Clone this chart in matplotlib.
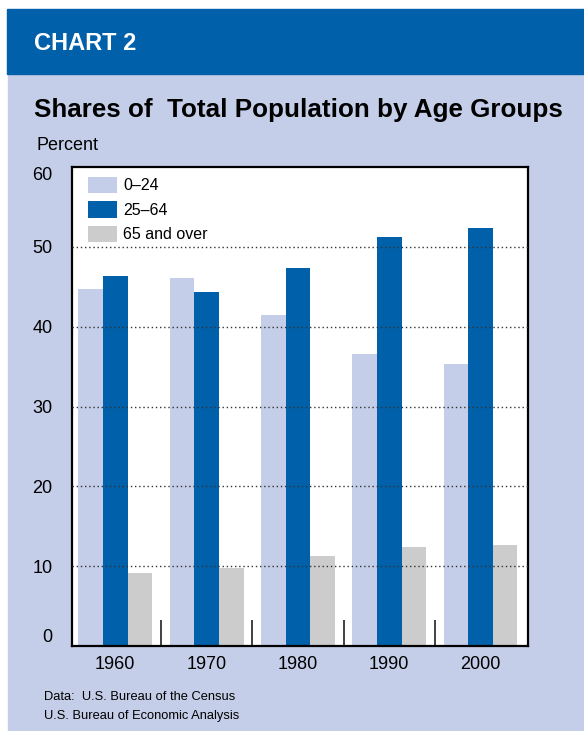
import matplotlib
matplotlib.use("Agg")
import matplotlib.pyplot as plt
from matplotlib.patches import Rectangle
import numpy as np

# shares of total population, percent
years = ["1960", "1970", "1980", "1990", "2000"]
age_groups = ["0\u201324", "25\u201364", "65 and over"]
share_0_24 = [44.7, 46.1, 41.5, 36.6, 35.3]
share_25_64 = [46.4, 44.4, 47.4, 51.2, 52.3]
share_65_up = [9.2, 9.8, 11.3, 12.4, 12.7]
y_ticks = [0, 10, 20, 30, 40, 50, 60]

dark_blue = "#0060aa"
light_blue = "#c5cee8"
grey = "#cccccc"

plt.rcParams['font.family'] = ['Liberation Sans', 'DejaVu Sans']

fig = plt.figure(figsize=(5.84, 7.31), dpi=100)
W, H = 584.0, 731.0

# background panels
fig.patches.append(Rectangle((8 / W, 0), 1 - 8 / W, (H - 74) / H,
                             transform=fig.transFigure, color=light_blue, zorder=-10))
fig.patches.append(Rectangle((7 / W, (H - 74) / H), 1 - 7 / W, 65 / H,
                             transform=fig.transFigure, color=dark_blue, zorder=-10))

fig.text(34 / W, 1 - 44 / H, "CHART 2", color="white", fontsize=17,
         fontweight="bold", va="center", ha="left")
fig.text(34 / W, 1 - 110 / H, "Shares of  Total Population by Age Groups",
         fontsize=18.7, fontweight="bold", va="center", ha="left")
fig.text(36 / W, 1 - 145 / H, "Percent", fontsize=13, va="center", ha="left")

ax = fig.add_axes([72 / W, (H - 646) / H, 456 / W, (646 - 167) / H])
ax.set_facecolor("white")

x = np.arange(len(years))
bw = 0.27
ax.bar(x - bw, share_0_24, bw, color=light_blue, label=age_groups[0], zorder=2)
ax.bar(x, share_25_64, bw, color=dark_blue, label=age_groups[1], zorder=2)
ax.bar(x + bw, share_65_up, bw, color=grey, label=age_groups[2], zorder=2)

ax.set_xlim(-0.474, 4.52)
ax.set_ylim(0, 60)

for v in y_ticks[1:-1]:
    ax.axhline(v, color="#333333", lw=1.0, ls=(0, (1, 2)), zorder=3)

ax.set_yticks(y_ticks)
ax.set_yticklabels([str(v) for v in y_ticks])
ax.tick_params(axis="y", length=0, pad=14, labelsize=13)
ax.get_yticklabels()[0].set_va("bottom")
ax.get_yticklabels()[-1].set_va("top")

ax.set_xticks(x)
ax.set_xticklabels(years)
ax.tick_params(axis="x", length=0, pad=7, labelsize=13)
ax.set_xticks(x[:-1] + 0.5, minor=True)
ax.tick_params(axis="x", which="minor", direction="in", length=19,
               width=1.3, color="#333333")

for s in ax.spines.values():
    s.set_linewidth(1.6)
    s.set_color("black")

leg = ax.legend(loc="upper left", bbox_to_anchor=(0.02, 0.993), frameon=False,
                fontsize=11.5, handlelength=1.85, handleheight=1.2,
                handletextpad=0.4, labelspacing=0.5, borderaxespad=0)

fig.text(44 / W, 1 - 697 / H, "Data:  U.S. Bureau of the Census", fontsize=9.3,
         va="center", ha="left")
fig.text(44 / W, 1 - 716 / H, "U.S. Bureau of Economic Analysis", fontsize=9.3,
         va="center", ha="left")

fig.savefig("out.png", dpi=100)
